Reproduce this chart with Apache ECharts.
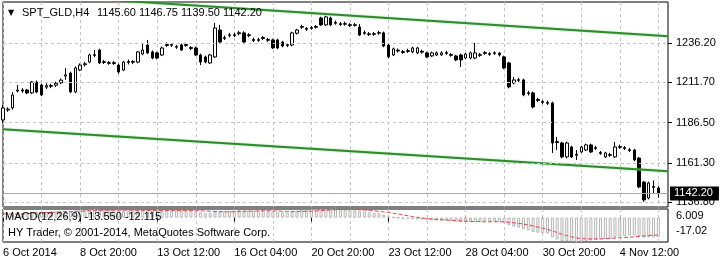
<!DOCTYPE html>
<html>
<head>
<meta charset="utf-8">
<script src="https://cdn.jsdelivr.net/npm/echarts@6/dist/echarts.min.js"></script>
<style>html,body{margin:0;padding:0;background:#fff;}#c{width:720px;height:264px;}</style>
</head>
<body>
<div id="c"></div>
<script>
// ---- data (H4 bars, SPT_GLD) ----
const tickLabels = ['6 Oct 2014','8 Oct 20:00','13 Oct 12:00','16 Oct 04:00','20 Oct 20:00','23 Oct 12:00','28 Oct 04:00','30 Oct 20:00','4 Nov 12:00'];
const priceTicks = [1236.20, 1211.70, 1186.50, 1161.30, 1136.80];
const lastPrice = 1142.20;
const titleText = 'SPT_GLD,H4';
const titleOHLC = '1145.60 1146.75 1139.50 1142.20';
const macdText = 'MACD(12,26,9) -13.550 -12.115';
const macdAxisLabels = ['6.009', '-17.02'];
const copyrightText = 'HY Trader, \u00a9 2001-2014, MetaQuotes Software Corp.';

const openP = [
1188.1,1194.3,1195.6,1206.2,1206.8,1206.8,1205.0,1211.8,1209.9,1208.6,
1209.6,1209.8,1211.3,1215.5,1217.4,1205.6,1219.3,1222.6,1224.3,1228.4,
1231.8,1224.0,1223.9,1223.4,1222.4,1219.3,1224.0,1224.6,1224.2,1229.3,
1234.9,1230.6,1230.0,1228.7,1234.6,1235.2,1233.5,1235.0,1234.6,1233.3,
1233.1,1228.7,1227.5,1223.7,1227.5,1244.3,1239.0,1240.8,1241.3,1242.0,
1242.5,1240.8,1238.4,1237.8,1239.0,1238.3,1238.1,1238.1,1236.8,1234.6,
1234.9,1242.3,1246.0,1245.2,1245.3,1246.0,1251.8,1247.5,1251.8,1248.5,
1248.2,1247.9,1247.6,1247.2,1246.2,1242.2,1241.9,1241.6,1242.3,1242.5,
1234.9,1228.7,1231.2,1230.8,1230.9,1230.6,1230.0,1231.0,1230.0,1228.1,
1228.7,1228.8,1229.7,1228.9,1228.1,1228.7,1226.8,1226.8,1226.8,1228.5,
1229.7,1229.5,1229.6,1229.8,1227.5,1223.7,1211.2,1212.8,1213.1,1204.6,
1205.0,1200.3,1199.6,1198.5,1198.7,1174.0,1173.7,1165.0,1171.2,1166.0,
1168.1,1169.3,1172.5,1170.3,1167.7,1165.0,1166.0,1165.0,1171.0,1170.8,
1169.5,1169.3,1164.3,1149.3,1139.3,1146.5,1145.6
];
const closeP = [
1195.6,1194.9,1203.7,1206.8,1206.2,1205.0,1211.8,1205.6,1203.7,1209.5,
1209.2,1211.0,1213.0,1216.3,1205.6,1220.6,1222.4,1223.2,1228.7,1228.9,
1223.7,1224.5,1223.5,1223.9,1218.1,1224.3,1224.6,1224.2,1230.6,1231.8,
1230.0,1226.8,1226.8,1233.1,1235.2,1234.8,1234.0,1231.8,1235.2,1232.8,
1228.7,1224.3,1224.3,1228.7,1245.6,1236.8,1239.6,1241.3,1240.9,1242.6,
1236.8,1241.3,1237.8,1238.3,1239.6,1237.9,1233.1,1233.1,1234.3,1235.1,
1242.5,1244.3,1246.5,1244.8,1245.8,1246.5,1247.5,1252.5,1247.5,1249.0,
1247.8,1248.3,1247.2,1247.6,1241.2,1242.7,1241.5,1242.0,1242.7,1234.3,
1227.5,1232.5,1231.7,1230.3,1231.4,1233.1,1233.1,1230.5,1227.5,1230.0,
1230.0,1230.0,1230.2,1228.5,1225.6,1225.6,1229.3,1230.0,1230.0,1228.9,
1230.2,1229.1,1230.1,1228.8,1220.6,1208.7,1213.1,1213.3,1203.7,1205.1,
1196.2,1200.9,1199.1,1199.0,1173.7,1174.6,1165.0,1173.7,1165.0,1166.5,
1171.2,1172.5,1168.1,1170.8,1167.2,1167.5,1166.5,1171.2,1171.5,1170.3,
1169.0,1163.1,1146.2,1138.1,1148.7,1146.0,1142.2
];
const lowP = [
1186.2,1193.2,1194.5,1205.3,1205.0,1204.2,1204.3,1204.8,1203.0,1207.5,
1208.0,1208.6,1210.5,1213.2,1205.0,1204.8,1218.6,1221.5,1223.5,1227.2,
1223.0,1223.0,1222.6,1222.5,1217.0,1218.5,1222.8,1223.0,1223.5,1228.5,
1229.2,1226.0,1226.0,1228.0,1233.8,1233.7,1232.5,1231.2,1233.8,1231.7,
1228.0,1222.4,1223.5,1223.0,1226.8,1236.0,1238.0,1239.7,1239.8,1241.0,
1236.0,1239.8,1236.8,1236.9,1238.0,1236.8,1232.4,1232.3,1233.5,1233.6,
1234.2,1241.5,1245.0,1243.8,1244.5,1245.2,1246.8,1246.8,1246.7,1247.6,
1246.8,1247.0,1246.2,1246.4,1240.5,1241.3,1240.6,1240.7,1241.3,1233.5,
1226.6,1228.0,1230.2,1229.4,1230.0,1229.8,1229.2,1229.5,1226.8,1227.4,
1228.0,1228.1,1228.8,1227.6,1224.8,1221.2,1226.0,1226.0,1226.0,1227.5,
1228.8,1228.2,1228.8,1227.8,1219.8,1207.8,1210.4,1211.8,1202.9,1203.4,
1195.3,1199.2,1198.0,1197.5,1167.5,1169.3,1164.2,1164.2,1164.3,1163.1,
1167.4,1168.6,1167.4,1169.4,1166.3,1164.3,1165.0,1164.3,1170.0,1169.3,
1168.0,1162.3,1145.4,1136.9,1138.5,1142.4,1139.5
];
const highP = [
1197.5,1196.0,1205.5,1209.9,1208.0,1207.5,1212.5,1212.7,1210.8,1211.0,
1210.8,1212.0,1214.0,1220.5,1218.3,1221.5,1223.4,1224.5,1229.5,1231.8,
1232.6,1225.6,1224.9,1225.0,1223.3,1225.0,1225.8,1225.5,1231.2,1236.2,
1238.1,1231.5,1230.8,1233.9,1236.5,1236.1,1235.0,1235.8,1236.3,1234.2,
1233.9,1229.5,1228.3,1229.4,1248.7,1247.5,1240.8,1242.5,1242.6,1243.8,
1243.5,1242.3,1239.5,1239.4,1240.6,1239.3,1238.9,1238.9,1237.5,1236.2,
1243.2,1245.0,1247.6,1246.2,1246.8,1247.4,1252.6,1253.2,1252.6,1250.2,
1249.3,1249.5,1248.6,1248.7,1248.0,1244.0,1243.0,1243.1,1243.8,1243.3,
1235.6,1233.3,1232.8,1231.8,1232.6,1233.9,1233.8,1232.0,1230.7,1230.8,
1230.9,1231.0,1231.3,1229.9,1228.8,1229.5,1230.0,1230.8,1236.2,1230.0,
1231.2,1230.4,1231.0,1230.6,1228.3,1224.5,1215.0,1214.4,1213.9,1206.3,
1205.8,1202.0,1200.6,1200.1,1199.5,1177.5,1174.5,1174.5,1172.0,1169.3,
1172.0,1173.3,1173.3,1171.9,1168.7,1168.2,1167.6,1174.3,1172.7,1171.8,
1170.5,1170.0,1165.0,1150.0,1149.5,1150.2,1146.75
];
const macdMain = [
1.0,1.5,2.2,2.8,3.2,3.5,3.9,4.1,4.0,4.1,
4.2,4.3,4.5,4.8,4.3,4.9,5.2,5.4,5.7,5.9,
5.6,5.5,5.3,5.1,4.6,4.6,4.6,4.5,4.8,5.1,
5.3,5.0,4.7,4.8,5.0,5.1,5.1,4.9,5.0,4.8,
4.3,3.6,3.1,3.1,4.2,4.4,4.5,4.7,4.9,5.1,
4.9,4.9,4.7,4.6,4.6,4.5,4.2,3.8,3.6,3.5,
4.0,4.6,5.2,5.5,5.8,6.0,6.009,6.0,5.9,5.8,
5.6,5.4,5.2,5.0,4.4,4.0,3.6,3.3,3.0,2.2,
0.9,0.3,-0.2,-0.7,-1.0,-1.1,-1.2,-1.4,-1.8,-2.0,
-2.1,-2.2,-2.3,-2.5,-2.8,-3.1,-3.1,-3.0,-2.9,-2.9,
-2.8,-2.8,-2.7,-2.8,-3.5,-5.2,-6.2,-6.9,-8.1,-8.9,
-10.1,-10.5,-10.8,-11.0,-13.8,-15.3,-16.5,-16.4,-16.8,-17.02,
-16.7,-16.2,-15.9,-15.5,-15.3,-15.0,-14.7,-13.9,-13.3,-12.8,
-12.4,-12.3,-13.0,-13.9,-13.8,-13.7,-13.55
];
const macdSignal = [
2.6,2.5,2.5,2.5,2.6,2.7,2.9,3.1,3.3,3.4,
3.6,3.8,4.0,4.2,4.2,4.4,4.5,4.6,4.8,4.9,
5.0,5.1,5.2,5.2,5.2,5.2,5.2,5.1,5.0,5.0,
5.0,4.9,4.9,4.9,4.9,4.9,4.9,4.9,4.9,5.0,
4.9,4.8,4.6,4.4,4.3,4.2,4.1,4.1,4.1,4.2,
4.4,4.5,4.6,4.7,4.8,4.8,4.7,4.6,4.4,4.3,
4.3,4.3,4.3,4.4,4.5,4.7,4.9,5.1,5.3,5.6,
5.7,5.8,5.7,5.6,5.4,5.2,5.0,4.7,4.4,4.0,
3.6,3.1,2.5,1.9,1.3,0.7,0.2,-0.3,-0.7,-1.0,
-1.3,-1.5,-1.7,-1.9,-2.1,-2.3,-2.5,-2.6,-2.7,-2.8,
-2.9,-2.9,-2.9,-2.9,-3.0,-3.3,-3.6,-4.0,-4.5,-5.1,
-5.8,-6.6,-7.4,-8.2,-9.3,-10.4,-11.6,-12.6,-13.4,-14.2,
-14.6,-14.8,-14.9,-14.9,-14.8,-14.7,-14.5,-14.3,-14.1,-13.9,
-13.7,-13.4,-13.1,-12.8,-12.5,-12.3,-12.115
];
// trend channel end points [bar slot, price]
const upperChannel = [[0, 1267.4], [138, 1240.4]];
const lowerChannel = [[0, 1182.3], [138, 1156.1]];

// ---- build ----
const slotCount = 139;
const slots = Array.from({length: slotCount}, (_, i) => String(i));
const candles = openP.map((o, i) => [o, closeP[i], lowP[i], highP[i]]);

const FONT = '"Liberation Sans", Arial, sans-serif';
const gridDash = {color: '#c4c4c4', type: [3, 3], width: 1};

const chart = echarts.init(document.getElementById('c'), null, {renderer: 'canvas'});
chart.setOption({
  animation: false,
  backgroundColor: '#fff',
  grid: [
    {left: 3, top: 2, width: 665, height: 205, show: true, borderColor: '#000', borderWidth: 1, backgroundColor: '#fff'},
    {left: 3, top: 209, width: 665, height: 33, show: true, borderColor: '#000', borderWidth: 1, backgroundColor: '#fff'}
  ],
  xAxis: [
    {type: 'category', gridIndex: 0, data: slots, boundaryGap: false,
     axisLine: {show: false}, axisTick: {show: false}, axisLabel: {show: false},
     splitLine: {show: true, interval: (i) => i % 8 === 0, lineStyle: gridDash}},
    {type: 'category', gridIndex: 1, data: slots, boundaryGap: false,
     axisLine: {show: false},
     axisTick: {show: true, interval: (i) => i % 16 === 0, length: 4, lineStyle: {color: '#000'}},
     axisLabel: {show: true, interval: (i) => i % 16 === 0, align: 'left', margin: 5,
       color: '#000', fontSize: 11, fontFamily: FONT,
       formatter: (v, i) => tickLabels[Math.round(i / 16)] || ''},
     splitLine: {show: true, interval: (i) => i % 8 === 0, lineStyle: gridDash}}
  ],
  yAxis: [
    {type: 'value', gridIndex: 0, position: 'right', min: 1133.7, max: 1261.8, scale: true,
     axisLine: {show: false}, splitLine: {show: false},
     axisTick: {show: true, customValues: priceTicks, length: 4, lineStyle: {color: '#000'}},
     axisLabel: {show: true, customValues: priceTicks, margin: 8, color: '#000', fontSize: 11, fontFamily: FONT,
       formatter: (v) => v.toFixed(2)}},
    {type: 'value', gridIndex: 1, position: 'right', min: -17.02, max: 6.009,
     axisLine: {show: false}, splitLine: {show: false}, axisTick: {show: false}, axisLabel: {show: false}}
  ],
  series: [
    {type: 'line', xAxisIndex: 0, yAxisIndex: 0, data: [], z: 1, silent: true,
     markLine: {silent: true, symbol: ['none', 'none'], animation: false, label: {show: false},
       data: priceTicks.map(v => ({yAxis: v, lineStyle: gridDash}))}},
    {type: 'candlestick', xAxisIndex: 0, yAxisIndex: 0, data: candles, barWidth: 3, z: 3,
     itemStyle: {color: '#fff', color0: '#000', borderColor: '#000', borderColor0: '#000', borderWidth: 1}},
    {type: 'line', xAxisIndex: 0, yAxisIndex: 0, data: upperChannel, symbol: 'none', z: 4,
     lineStyle: {color: '#2f8a2f', width: 2, shadowColor: 'rgba(120,210,120,0.8)', shadowBlur: 2}},
    {type: 'line', xAxisIndex: 0, yAxisIndex: 0, data: lowerChannel, symbol: 'none', z: 4,
     lineStyle: {color: '#2f8a2f', width: 2, shadowColor: 'rgba(120,210,120,0.8)', shadowBlur: 2}},
    {type: 'line', xAxisIndex: 0, yAxisIndex: 0, data: [], z: 6, silent: true,
     markLine: {silent: true, symbol: ['none', 'none'], animation: false,
       data: [{yAxis: lastPrice,
         lineStyle: {color: '#a8a8a8', type: 'solid', width: 1},
         label: {show: true, position: 'end', distance: 2, formatter: lastPrice.toFixed(2),
           backgroundColor: '#000', color: '#fff', fontSize: 11, fontFamily: FONT,
           padding: [2, 6, 1, 4]}}]}},
    {type: 'bar', xAxisIndex: 1, yAxisIndex: 1, data: macdMain, barWidth: 3, z: 2,
     itemStyle: {color: '#fff', borderColor: '#b4b4b4', borderWidth: 1}},
    {type: 'line', xAxisIndex: 1, yAxisIndex: 1, data: macdSignal, symbol: 'none', z: 3,
     lineStyle: {color: '#e04848', width: 1, type: [4, 2]}}
  ],
  graphic: [
    {type: 'text', x: 8, y: 13, z: 100, style: {text: '\u25BC', font: '8px "DejaVu Sans"', fill: '#000', verticalAlign: 'middle'}},
    {type: 'text', x: 22, y: 13, z: 100, style: {text: titleText, font: '11px ' + FONT, fill: '#000', verticalAlign: 'middle'}},
    {type: 'text', x: 97, y: 13, z: 100, style: {text: titleOHLC, font: '11px ' + FONT, fill: '#000', verticalAlign: 'middle'}},
    {type: 'text', x: 5, y: 217, z: 100, style: {text: macdText, font: '11px ' + FONT, fill: '#000', verticalAlign: 'middle'}},
    {type: 'text', x: 8, y: 233, z: 100, style: {text: copyrightText, font: '11px ' + FONT, fill: '#000', verticalAlign: 'middle'}},
    {type: 'text', x: 676, y: 216, z: 100, style: {text: macdAxisLabels[0], font: '11px ' + FONT, fill: '#000', verticalAlign: 'middle'}},
    {type: 'text', x: 676, y: 231, z: 100, style: {text: macdAxisLabels[1], font: '11px ' + FONT, fill: '#000', verticalAlign: 'middle'}}
  ]
});
</script>
</body>
</html>
